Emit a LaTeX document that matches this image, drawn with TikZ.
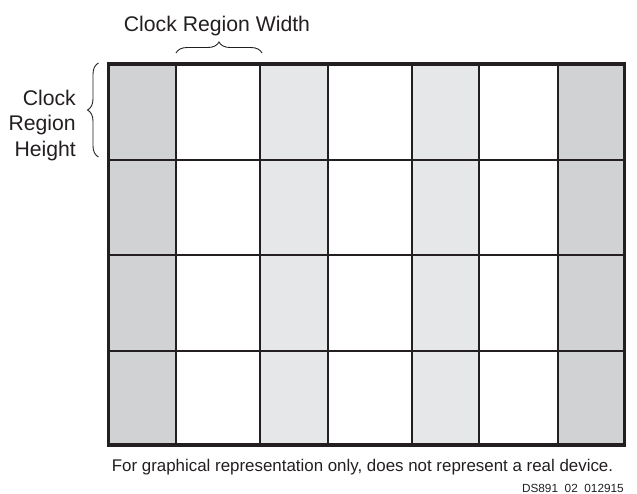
\documentclass[tikz,border=0pt]{standalone}
\usepackage{fontspec}
\setmainfont{Liberation Sans}
\usetikzlibrary{decorations.pathreplacing}
\definecolor{lineblk}{HTML}{231F20}
\definecolor{darkcol}{HTML}{D1D2D4}
\definecolor{lightcol}{HTML}{E6E7E8}
\begin{document}
\begin{tikzpicture}[x=1pt,y=-1pt,
  bigtext/.style={inner sep=0pt,font=\fontsize{21.2}{25}\selectfont,text=lineblk},
  notetext/.style={inner sep=0pt,font=\fontsize{16.9}{20}\selectfont,text=lineblk},
  idtext/.style={inner sep=0pt,font=\fontsize{11.8}{14}\selectfont,text=lineblk},
  gridline/.style={draw=lineblk,line width=2pt},
  frameline/.style={draw=lineblk,line width=3.2pt},
  bracestyle/.style={draw=lineblk,line width=0.9pt,decorate,decoration={brace,amplitude=11pt}}]
\useasboundingbox (0,0) rectangle (637,494);
% column fills
\fill[darkcol]  (108.5,64) rectangle (176,445);
\fill[lightcol] (260,64) rectangle (327.5,445);
\fill[lightcol] (412,64) rectangle (479,445);
\fill[darkcol]  (557.5,64) rectangle (624.5,445);
% inner grid lines
\foreach \xx in {176,260,327.5,412,479,557.5}
  \draw[gridline] (\xx,64) -- (\xx,445);
\foreach \yy in {160,255,350.5}
  \draw[gridline] (108.5,\yy) -- (624.5,\yy);
% frame
\draw[frameline] (108.5,64) rectangle (624.5,445);
% braces
\coordinate (wbl) at (176,53);
\coordinate (wbr) at (262,53);
\draw[bracestyle] (wbl) -- (wbr);
\coordinate (hbb) at (98.5,157);
\coordinate (hbt) at (98.5,63);
\draw[bracestyle] (hbb) -- (hbt);
% labels
\node[bigtext,anchor=base] (widthlabel) at (217,31.5) {Clock Region Width};
\node[bigtext,anchor=base east] (hclock) at (76,106) {Clock};
\node[bigtext,anchor=base east] (hregion) at (76,131) {Region};
\node[bigtext,anchor=base east] (hheight) at (76,156.5) {Height};
\node[notetext,anchor=base] (note) at (362.5,471) {For graphical representation only, does not represent a real device.};
\node[idtext,anchor=base east] (figid) at (624,492) {DS891\hspace{6.6pt}02\hspace{6.6pt}012915};
\end{tikzpicture}
\end{document}
